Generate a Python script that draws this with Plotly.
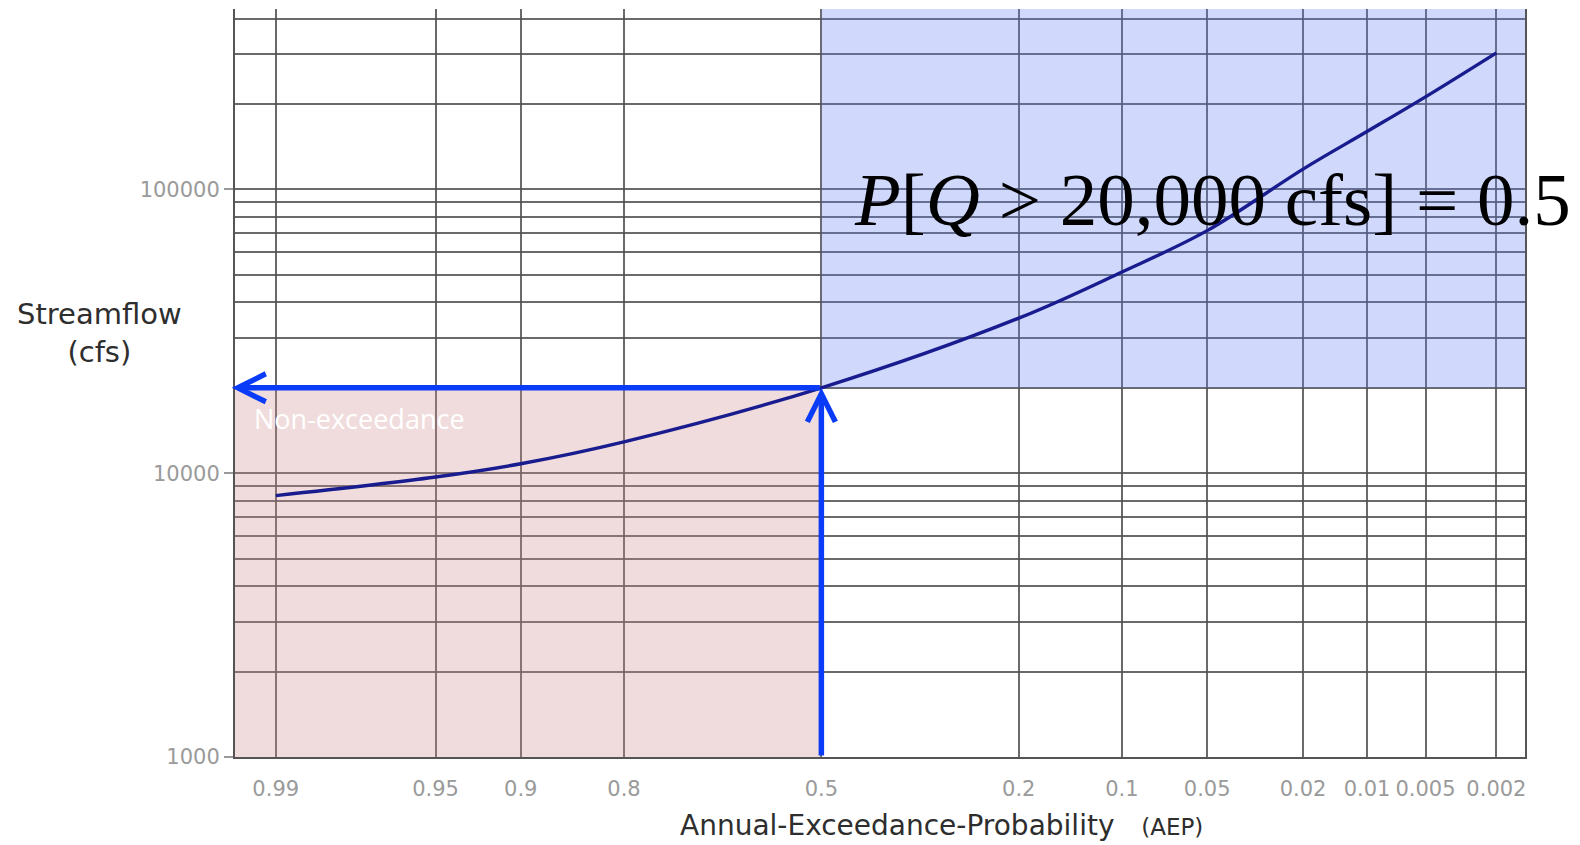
import plotly.graph_objects as go
from statistics import NormalDist
import math

# ---------------- data ----------------
tick_probs = [0.99, 0.95, 0.9, 0.8, 0.5, 0.2, 0.1, 0.05, 0.02, 0.01, 0.005, 0.002]
tick_labels = ["0.99", "0.95", "0.9", "0.8", "0.5", "0.2", "0.1", "0.05", "0.02", "0.01", "0.005", "0.002"]

curve_aep = [0.99, 0.95, 0.9, 0.8, 0.5, 0.2, 0.1, 0.05, 0.02, 0.01, 0.005, 0.002]
curve_flow = [8340, 9700, 10800, 12900, 20000, 35200, 51200, 71600, 118000, 160000, 212000, 303000]

y_major = [1000, 10000, 100000]
y_major_labels = ["1000", "10000", "100000"]
y_minor = [m * d for d in (1000, 10000) for m in range(2, 10)] + [200000, 300000, 400000]

threshold_flow = 20000
threshold_aep = 0.5

# ---------------- scales ----------------
nd = NormalDist()
def z(p):
    return nd.inv_cdf(1 - p)

x_range = [-2.5, 3.0]
y_range = [3, 5.636]

grid_col = "rgba(80,80,80,0.85)"

fig = go.Figure()

fig.add_trace(go.Scatter(
    x=[z(p) for p in curve_aep], y=curve_flow, mode="lines",
    line=dict(color="#181c8f", width=3.4, shape="spline", smoothing=1.0),
    hoverinfo="skip", showlegend=False))

# shaded regions
fig.add_shape(type="rect", xref="x", yref="y", layer="between",
              x0=z(threshold_aep), x1=x_range[1], y0=threshold_flow, y1=10 ** y_range[1],
              fillcolor="rgba(92,122,240,0.29)", line=dict(width=0))
fig.add_shape(type="rect", xref="x", yref="y", layer="between",
              x0=x_range[0] - 0.012, x1=z(threshold_aep), y0=10 ** y_range[0], y1=threshold_flow,
              fillcolor="rgba(205,140,140,0.30)", line=dict(width=0))

arrow_col = "#0a3cf7"
# horizontal arrow to the y axis
fig.add_annotation(x=x_range[0] - 0.014, y=math.log10(threshold_flow), ax=z(threshold_aep),
                   ay=math.log10(threshold_flow), axref="x", ayref="y", xref="x", yref="y",
                   text="", showarrow=True, arrowhead=5, arrowsize=1.0, arrowwidth=5.5,
                   arrowcolor=arrow_col)
# vertical arrow from bottom up to threshold
fig.add_annotation(x=z(threshold_aep), y=math.log10(threshold_flow), ax=z(threshold_aep),
                   ay=y_range[0], axref="x", ayref="y", xref="x", yref="y",
                   text="", showarrow=True, arrowhead=5, arrowsize=1.0, arrowwidth=5.5,
                   arrowcolor=arrow_col)

# labels
fig.add_annotation(xref="paper", yref="paper", x=0.0132, y=0.452, xanchor="left", yanchor="middle",
                   text="Non-exceedance", showarrow=False,
                   font=dict(family="Open Sans", size=27, color="white"))
fig.add_annotation(xref="paper", yref="paper", x=(852 - 235) / 1290, y=0.745,
                   xanchor="left", yanchor="middle",
                   text="<i>P</i>[<i>Q</i> &gt; 20,000 cfs] = 0.5", showarrow=False,
                   font=dict(family="Liberation Serif", size=75, color="black"))
fig.add_annotation(xref="paper", yref="paper", x=0.548, y=-0.092, xanchor="center", yanchor="middle",
                   text="Annual-Exceedance-Probability&nbsp;&nbsp;&nbsp;<span style='font-size:23px'>(AEP)</span>",
                   showarrow=False, font=dict(family="DejaVu Sans", size=28, color="#2e2e2e"))
fig.add_annotation(xref="paper", yref="paper", x=-0.1047, y=0.567, xanchor="center", yanchor="middle",
                   text="Streamflow<br>(cfs)", showarrow=False,
                   font=dict(family="DejaVu Sans", size=29, color="#2e2e2e"))

fig.update_xaxes(
    type="linear", range=x_range, tickmode="array",
    tickvals=[z(p) for p in tick_probs], ticktext=tick_labels,
    showgrid=True, gridcolor=grid_col, gridwidth=2,
    ticks="outside", ticklen=12, tickcolor="rgba(0,0,0,0)",
    tickfont=dict(family="DejaVu Sans", size=21, color="#9a9a9a"),
    showline=True, linecolor="#555", linewidth=2, zeroline=False, mirror=False,
)
fig.update_yaxes(
    type="log", range=y_range, tickmode="array", tickvals=y_major, ticktext=y_major_labels,
    showgrid=True, gridcolor=grid_col, gridwidth=2,
    ticks="outside", ticklen=9, tickcolor="#999", tickwidth=1.5,
    tickfont=dict(family="DejaVu Sans", size=21, color="#9a9a9a"),
    minor=dict(tickmode="array", tickvals=y_minor, showgrid=True, gridcolor=grid_col,
               gridwidth=2, ticks=""),
    showline=True, linecolor="#555", linewidth=2, mirror=True, zeroline=False,
)

fig.update_layout(
    width=1580, height=845,
    margin=dict(l=235, r=55, t=9, b=88),
    paper_bgcolor="white", plot_bgcolor="white",
    showlegend=False,
)

fig.write_html("out.html", config={"displayModeBar": False},
               post_script="document.body.style.margin='0';")
